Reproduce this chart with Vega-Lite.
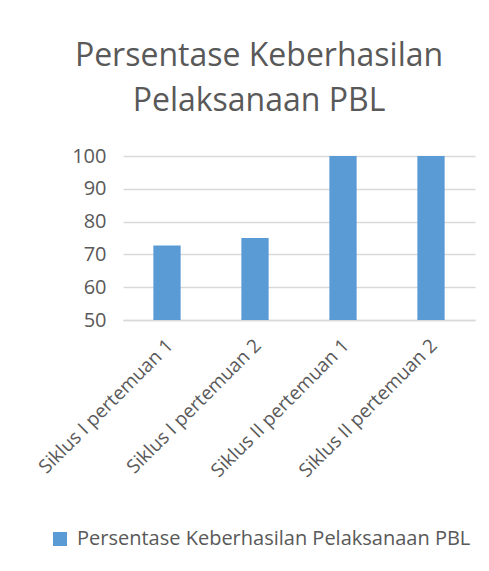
{
  "$schema": "https://vega.github.io/schema/vega-lite/v6.json",
  "autosize": {"type": "none"},
  "width": 352,
  "height": 164,
  "padding": {"left": 123, "top": 156, "right": 14, "bottom": 251},
  "background": "white",
  "title": {
    "text": ["Persentase Keberhasilan", "Pelaksanaan PBL"],
    "font": "Open Sans",
    "fontSize": 32,
    "fontWeight": "normal",
    "color": "#595959",
    "anchor": "middle",
    "dx": -40,
    "lineHeight": 45,
    "offset": 28
  },
  "data": {
    "values": [
      {"kategori": "Siklus I pertemuan 1", "nilai": 72.7, "seri": "Persentase Keberhasilan Pelaksanaan PBL"},
      {"kategori": "Siklus I pertemuan 2", "nilai": 75, "seri": "Persentase Keberhasilan Pelaksanaan PBL"},
      {"kategori": "Siklus II pertemuan 1", "nilai": 100, "seri": "Persentase Keberhasilan Pelaksanaan PBL"},
      {"kategori": "Siklus II pertemuan 2", "nilai": 100, "seri": "Persentase Keberhasilan Pelaksanaan PBL"}
    ]
  },
  "mark": {"type": "bar", "clip": true},
  "encoding": {
    "x": {
      "field": "kategori",
      "type": "nominal",
      "sort": null,
      "scale": {"paddingInner": 0.69, "paddingOuter": 0.345},
      "axis": {
        "title": null,
        "labelAngle": -45,
        "labelAlign": "right",
        "labelBaseline": "middle",
        "labelFont": "Open Sans",
        "labelFontSize": 19,
        "labelColor": "#595959",
        "labelPadding": 22,
        "labelOffset": 3,
        "ticks": false,
        "domain": true,
        "domainColor": "#d9d9d9",
        "domainWidth": 1.3,
        "labelLimit": 300
      }
    },
    "y": {
      "field": "nilai",
      "type": "quantitative",
      "scale": {"domain": [50, 100], "nice": false, "zero": false},
      "axis": {
        "title": null,
        "values": [50, 60, 70, 80, 90, 100],
        "labelFont": "Open Sans",
        "labelFontSize": 20,
        "labelColor": "#595959",
        "labelPadding": 17,
        "ticks": false,
        "domain": false,
        "gridColor": "#d9d9d9",
        "gridWidth": 1.3
      }
    },
    "color": {
      "field": "seri",
      "type": "nominal",
      "scale": {"range": ["#5B9BD5"]},
      "legend": {
        "title": null,
        "orient": "none",
        "legendX": -73,
        "legendY": 373,
        "direction": "horizontal",
        "symbolType": "square",
        "symbolSize": 196,
        "symbolStrokeWidth": 0,
        "symbolOpacity": 1,
        "labelFont": "Open Sans",
        "labelFontSize": 20,
        "labelColor": "#595959",
        "labelOffset": 7,
        "labelLimit": 500
      }
    }
  },
  "config": {
    "view": {"stroke": null}
  }
}
